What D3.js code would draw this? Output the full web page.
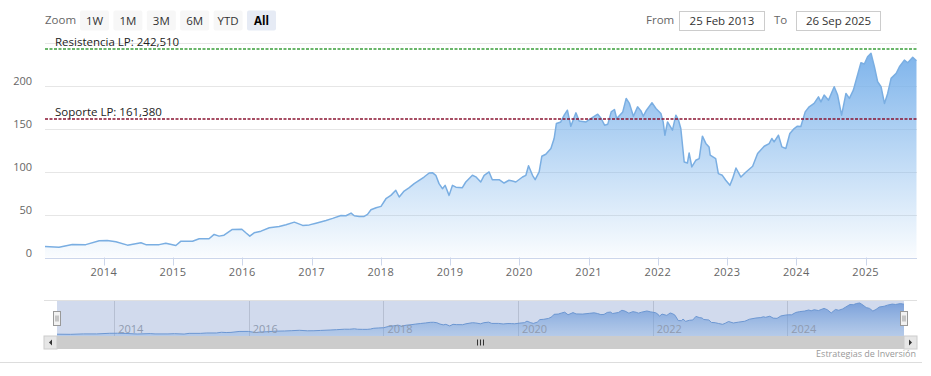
<!DOCTYPE html>
<html>
<head>
<meta charset="utf-8">
<script src="https://cdn.jsdelivr.net/npm/d3@7/dist/d3.min.js"></script>
<style>
  body { margin: 0; background: #fff; }
  svg { display: block; font-family: "Open Sans", "DejaVu Sans", sans-serif; }
</style>
</head>
<body>
<div id="chart"></div>
<script>
// price series
const dates = [
  "2013-02-25","2013-05-10","2013-07-19","2013-09-28","2013-12-08","2014-01-19","2014-03-06","2014-05-06",
  "2014-07-16","2014-08-11","2014-10-20","2014-11-24","2015-01-16","2015-02-12","2015-04-14","2015-05-19",
  "2015-07-10","2015-08-06","2015-09-01","2015-09-27","2015-11-10","2015-12-30","2016-01-20","2016-02-10",
  "2016-03-04","2016-04-09","2016-05-23","2016-07-14","2016-08-19","2016-10-02","2016-11-15","2016-12-20",
  "2017-01-24","2017-03-18","2017-04-22","2017-06-05","2017-07-01","2017-07-28","2017-08-14","2017-09-09",
  "2017-10-05","2017-10-23","2017-11-10","2017-12-07","2018-01-02","2018-01-28","2018-02-23","2018-03-21",
  "2018-04-08","2018-05-04","2018-05-31","2018-06-26","2018-07-22","2018-08-17","2018-09-13","2018-09-30",
  "2018-10-18","2018-11-04","2018-11-22","2018-12-06","2018-12-27","2019-01-14","2019-02-01","2019-03-07",
  "2019-03-25","2019-04-29","2019-05-17","2019-06-12","2019-06-30","2019-07-26","2019-08-12","2019-09-17",
  "2019-10-13","2019-11-08","2019-11-26","2019-12-14","2020-01-18","2020-02-05","2020-02-19","2020-03-11",
  "2020-03-25","2020-04-15","2020-04-29","2020-05-20","2020-06-16","2020-07-03","2020-07-15","2020-08-07",
  "2020-08-25","2020-09-11","2020-09-29","2020-10-26","2020-11-12","2020-12-18","2021-01-22","2021-02-18",
  "2021-03-08","2021-03-26","2021-04-12","2021-04-30","2021-05-17","2021-05-29","2021-06-30","2021-07-18",
  "2021-08-04","2021-08-25","2021-09-16","2021-10-04","2021-10-16","2021-11-02","2021-12-01","2021-12-22",
  "2022-01-17","2022-01-29","2022-02-07","2022-02-21","2022-03-19","2022-04-06","2022-04-20","2022-05-02",
  "2022-05-20","2022-06-06","2022-06-15","2022-06-29","2022-07-20","2022-08-07","2022-08-24","2022-09-11",
  "2022-09-28","2022-10-04","2022-11-02","2022-11-16","2022-12-07","2022-12-25","2023-01-16","2023-01-30",
  "2023-02-17","2023-03-15","2023-04-11","2023-05-16","2023-06-11","2023-07-16","2023-08-11","2023-08-25",
  "2023-09-06","2023-09-29","2023-10-17","2023-11-07","2023-11-28","2023-12-21","2024-01-07","2024-01-25",
  "2024-02-17","2024-03-09","2024-04-04","2024-04-27","2024-05-10","2024-05-27","2024-06-19","2024-07-19",
  "2024-08-06","2024-08-27","2024-09-19","2024-10-07","2024-10-28","2024-11-14","2024-12-07","2024-12-25",
  "2025-01-11","2025-01-29","2025-02-16","2025-03-05","2025-03-23","2025-04-10","2025-04-27","2025-05-15",
  "2025-06-11","2025-06-28","2025-07-24","2025-08-11","2025-09-06","2025-09-26"
];
const prices = [
  12.9, 12.0, 15.2, 15.0, 19.5, 19.9, 18.3, 14.4,
  17.2, 15.0, 15.0, 16.7, 14.0, 19.0, 19.0, 21.8,
  21.8, 26.9, 24.9, 26.0, 32.7, 33.0, 28.8, 24.9,
  28.8, 30.7, 34.7, 36.2, 38.2, 41.2, 37.4, 38.0,
  40.0, 43.2, 45.6, 49.0, 48.7, 51.8, 48.7, 47.9,
  47.9, 50.2, 55.7, 58.0, 59.6, 68.5, 72.4, 78.3,
  70.5, 77.5, 81.4, 86.1, 90.0, 93.8, 98.5, 98.9,
  95.8, 86.1, 80.2, 84.1, 72.4, 84.1, 82.0, 81.4,
  88.0, 95.8, 94.0, 88.0, 95.8, 99.7, 90.7, 90.7,
  86.8, 90.0, 89.2, 88.0, 93.8, 95.8, 107.0, 95.8,
  90.7, 99.7, 118.0, 120.3, 127.0, 138.7, 156.2, 158.0,
  165.9, 171.7, 153.0, 168.6, 159.2, 158.0, 163.2, 167.0,
  162.0, 154.2, 155.4, 169.7, 172.5, 162.0, 169.7, 185.4,
  179.6, 164.7, 175.6, 170.9, 164.7, 171.7, 180.3, 173.7,
  167.9, 158.0, 142.5, 158.0, 148.4, 165.9, 160.0, 150.3,
  111.3, 110.2, 121.8, 105.5, 113.3, 115.3, 141.4, 133.0,
  128.9, 119.2, 115.3, 97.8, 95.8, 90.0, 84.1, 91.9,
  104.3, 93.8, 99.7, 106.3, 121.1, 129.7, 132.8, 138.7,
  134.7, 142.5, 128.9, 127.0, 144.5, 150.3, 153.0, 152.6,
  169.7, 175.6, 179.6, 187.3, 181.4, 189.3, 183.4, 199.0,
  189.3, 165.9, 191.2, 185.4, 195.1, 208.8, 227.0, 225.5,
  234.0, 238.0, 222.3, 204.8, 199.0, 179.6, 191.2, 208.8,
  214.6, 222.3, 230.1, 227.0, 233.3, 229.3
];

const yGrid = [0, 50, 100, 150, 200, 250];
const yLabels = [0, 50, 100, 150, 200];
const xYears = [2014, 2015, 2016, 2017, 2018, 2019, 2020, 2021, 2022, 2023, 2024, 2025];
const navYears = [2014, 2016, 2018, 2020, 2022, 2024];
const zoomButtons = ["1W", "1M", "3M", "6M", "YTD", "All"];
const lineValues = [242.51, 161.38];
const lineLabels = ["Resistencia LP: 242,510", "Soporte LP: 161,380"];
const fromText = "25 Feb 2013";
const toText = "26 Sep 2025";
const creditText = "Estrategias de Inversión";

document.addEventListener("DOMContentLoaded", function() {
    const width = 931, height = 376;
    const parse = d3.timeParse("%Y-%m-%d");
    const data = dates.map((d, i) => ({ date: parse(d), value: prices[i] }));

    const svg = d3.select("#chart").append("svg")
        .attr("width", width)
        .attr("height", height);

    const defs = svg.append("defs");

    // main plot
    const pLeft = 45, pRight = 916.5, pTop = 43, pBottom = 257.5;
    const x = d3.scaleTime().domain(d3.extent(data, d => d.date)).range([pLeft, pRight]);
    const y = d3.scaleLinear().domain([0, 250]).range([pBottom, pTop]);
    const crisp = v => Math.round(v) + 0.5;

    svg.append("g").selectAll("line")
        .data(yGrid)
        .enter().append("line")
        .attr("x1", pLeft).attr("x2", pRight + 0.5)
        .attr("y1", d => crisp(y(d))).attr("y2", d => crisp(y(d)))
        .style("stroke", "#e6e6e6");

    svg.append("g").selectAll("text")
        .data(yLabels)
        .enter().append("text")
        .attr("x", 32)
        .attr("y", d => y(d) - 1)
        .attr("text-anchor", "end")
        .style("font-size", "11px")
        .style("fill", "#666")
        .text(d => d);

    // area gradient
    const grad = defs.append("linearGradient")
        .attr("id", "areaFill")
        .attr("gradientUnits", "userSpaceOnUse")
        .attr("x1", 0).attr("x2", 0)
        .attr("y1", pTop).attr("y2", pBottom);
    grad.append("stop").attr("offset", 0).attr("stop-color", "rgb(120,176,234)").attr("stop-opacity", 1);
    grad.append("stop").attr("offset", 1).attr("stop-color", "rgb(124,181,236)").attr("stop-opacity", 0.04);

    const area = d3.area().x(d => x(d.date)).y0(pBottom).y1(d => y(d.value));
    const line = d3.line().x(d => x(d.date)).y(d => y(d.value));

    svg.append("path").datum(data)
        .attr("d", area)
        .style("fill", "url(#areaFill)");

    svg.append("path").datum(data)
        .attr("d", line)
        .style("fill", "none")
        .style("stroke", "#7aaee2")
        .style("stroke-width", 1.5)
        .style("stroke-linejoin", "round");

    // support / resistance lines
    const lineColors = ["#3a9e3a", "#8a1432"];
    lineValues.forEach((v, i) => {
        svg.append("line")
            .attr("x1", pLeft).attr("x2", pRight + 0.5)
            .attr("y1", Math.round(y(v))).attr("y2", Math.round(y(v)))
            .attr("stroke", lineColors[i])
            .attr("stroke-width", 1.3)
            .attr("stroke-dasharray", "3,1.5");
        svg.append("text")
            .attr("x", 55)
            .attr("y", y(v) - 3.5)
            .style("font-size", "11.5px")
            .style("fill", "#222")
            .text(lineLabels[i]);
    });

    // x axis
    const yearDates = xYears.map(yr => new Date(yr, 0, 1));
    svg.append("line")
        .attr("x1", pLeft).attr("x2", pRight + 0.5)
        .attr("y1", crisp(pBottom)).attr("y2", crisp(pBottom))
        .style("stroke", "#ccd6eb");
    const xt = svg.append("g").selectAll("g")
        .data(yearDates)
        .enter().append("g");
    xt.append("line")
        .attr("x1", d => crisp(x(d))).attr("x2", d => crisp(x(d)))
        .attr("y1", pBottom).attr("y2", pBottom + 8)
        .style("stroke", "#ccd6eb");
    xt.append("text")
        .attr("x", d => x(d))
        .attr("y", 276)
        .attr("text-anchor", "middle")
        .style("font-size", "11px")
        .style("fill", "#666")
        .style("letter-spacing", "0.4px")
        .text(d => d.getFullYear());

    // range selector
    svg.append("text")
        .attr("x", 45).attr("y", 24)
        .style("font-size", "11.5px")
        .style("fill", "#666")
        .text("Zoom");
    const btn = svg.append("g").selectAll("g")
        .data(zoomButtons)
        .enter().append("g")
        .attr("transform", (d, i) => `translate(${80 + i * 33.4},10.5)`);
    btn.append("rect")
        .attr("width", 29).attr("height", 20).attr("rx", 2)
        .style("fill", d => d === "All" ? "#e6ebf5" : "#f7f7f7");
    btn.append("text")
        .attr("x", 14.5).attr("y", 14)
        .attr("text-anchor", "middle")
        .style("font-size", "11.5px")
        .style("font-weight", d => d === "All" ? "bold" : "normal")
        .style("fill", d => d === "All" ? "#000" : "#333")
        .text(d => d);

    const inputs = [
        { label: "From", lx: 646, bx: 679.5, bw: 85, text: fromText },
        { label: "To", lx: 774, bx: 796.5, bw: 84, text: toText }
    ];
    inputs.forEach(inp => {
        svg.append("text")
            .attr("x", inp.lx).attr("y", 24)
            .style("font-size", "11.5px")
            .style("fill", "#666")
            .text(inp.label);
        svg.append("rect")
            .attr("x", inp.bx).attr("y", 11.5)
            .attr("width", inp.bw).attr("height", 19)
            .style("fill", "#fff")
            .style("stroke", "#ccc");
        svg.append("text")
            .attr("x", inp.bx + inp.bw / 2).attr("y", 25)
            .attr("text-anchor", "middle")
            .style("font-size", "11.5px")
            .style("fill", "#333")
            .text(inp.text);
    });

    // navigator
    const navTop = 300, navBottom = 336;
    const xn = d3.scaleTime().domain(x.domain()).range([57, 904]);
    const yn = d3.scaleLinear().domain([0, 245]).range([navBottom, 302]);

    svg.append("g").selectAll("line")
        .data(navYears.map(yr => new Date(yr, 0, 1)))
        .enter().append("line")
        .attr("x1", d => crisp(xn(d))).attr("x2", d => crisp(xn(d)))
        .attr("y1", navTop).attr("y2", navBottom)
        .style("stroke", "#d8d8d8");

    const ngrad = defs.append("linearGradient")
        .attr("id", "navFill")
        .attr("gradientUnits", "userSpaceOnUse")
        .attr("x1", 0).attr("x2", 0)
        .attr("y1", 302).attr("y2", navBottom);
    ngrad.append("stop").attr("offset", 0).attr("stop-color", "rgb(100,150,220)").attr("stop-opacity", 0.8);
    ngrad.append("stop").attr("offset", 1).attr("stop-color", "rgb(124,181,236)").attr("stop-opacity", 0.3);

    svg.append("path").datum(data)
        .attr("d", d3.area().x(d => xn(d.date)).y0(navBottom).y1(d => yn(d.value)))
        .style("fill", "url(#navFill)");
    svg.append("path").datum(data)
        .attr("d", d3.line().x(d => xn(d.date)).y(d => yn(d.value)))
        .style("fill", "none")
        .style("stroke", "#6f9fd8")
        .style("stroke-width", 1);

    // selected range mask
    svg.append("rect")
        .attr("x", xn.range()[0]).attr("y", navTop)
        .attr("width", xn.range()[1] - xn.range()[0]).attr("height", navBottom - navTop)
        .style("fill", "rgba(102,133,194,0.3)");
    svg.append("line")
        .attr("x1", 44).attr("x2", 917)
        .attr("y1", navTop + 0.5).attr("y2", navTop + 0.5)
        .style("stroke", "#e0e0e0");

    svg.append("g").selectAll("text")
        .data(navYears.map(yr => new Date(yr, 0, 1)))
        .enter().append("text")
        .attr("x", d => xn(d) + 4)
        .attr("y", 333)
        .style("font-size", "11px")
        .style("fill", "#8f9bb0")
        .text(d => d.getFullYear());

    // handles
    xn.range().forEach(hx => {
        const h = svg.append("g").attr("transform", `translate(${Math.round(hx) - 3.5},311.5)`);
        h.append("rect").attr("width", 7).attr("height", 14)
            .style("fill", "#f2f2f2").style("stroke", "#999");
        h.append("line").attr("x1", 2.5).attr("x2", 2.5).attr("y1", 4).attr("y2", 10).style("stroke", "#999");
        h.append("line").attr("x1", 4.5).attr("x2", 4.5).attr("y1", 4).attr("y2", 10).style("stroke", "#999");
    });

    // scrollbar
    const sbTop = 336, sbH = 13;
    svg.append("rect")
        .attr("x", 44).attr("y", sbTop).attr("width", 873).attr("height", sbH)
        .style("fill", "#f2f2f2");
    svg.append("rect")
        .attr("x", 57).attr("y", sbTop).attr("width", 847).attr("height", sbH)
        .style("fill", "#cccccc");
    [44, 904].forEach((bx, i) => {
        svg.append("rect")
            .attr("x", bx).attr("y", sbTop).attr("width", 13).attr("height", sbH)
            .style("fill", "#e6e6e6").style("stroke", "#cccccc");
        const cx = bx + 6.5, cy = sbTop + 6.5;
        const pts = i === 0
            ? [[cx + 1.5, cy - 3], [cx + 1.5, cy + 3], [cx - 1.5, cy]]
            : [[cx - 1.5, cy - 3], [cx - 1.5, cy + 3], [cx + 1.5, cy]];
        svg.append("path")
            .attr("d", "M" + pts.join("L") + "Z")
            .style("fill", "#333");
    });
    [-3, 0, 3].forEach(dx => {
        svg.append("line")
            .attr("x1", 480.5 + dx).attr("x2", 480.5 + dx)
            .attr("y1", sbTop + 3.5).attr("y2", sbTop + 9.5)
            .style("stroke", "#333");
    });

    // credit and bottom rule
    svg.append("text")
        .attr("x", 916).attr("y", 357)
        .attr("text-anchor", "end")
        .style("font-size", "9px")
        .style("fill", "#999")
        .text(creditText);
    svg.append("line")
        .attr("x1", 0).attr("x2", 922)
        .attr("y1", 362.5).attr("y2", 362.5)
        .style("stroke", "#dddddd");
});
</script>
</body>
</html>
